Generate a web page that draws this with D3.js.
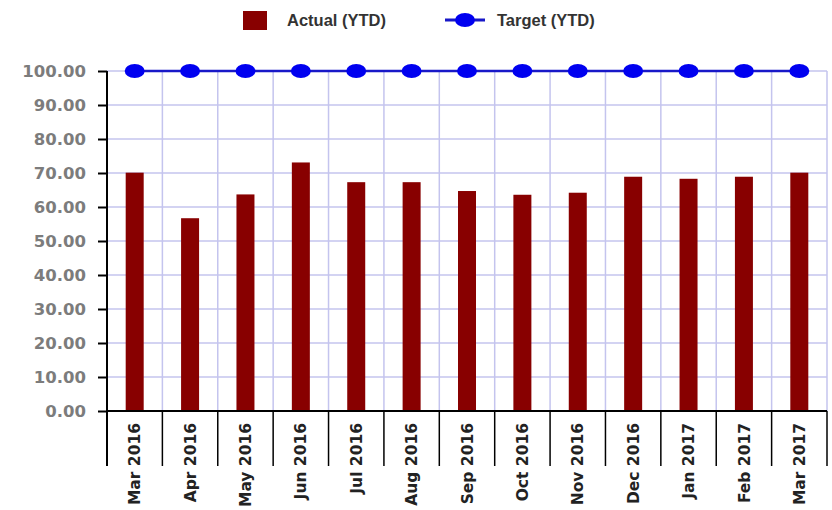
<!DOCTYPE html>
<html><head><meta charset="utf-8">
<script src="https://cdn.jsdelivr.net/npm/d3@7"></script>
<style>
html,body{margin:0;padding:0;background:#fff;}
svg{display:block;}
</style></head>
<body>
<svg id="chart" width="832" height="510"></svg>
<script>
const categories = ["Mar 2016","Apr 2016","May 2016","Jun 2016","Jul 2016","Aug 2016","Sep 2016","Oct 2016","Nov 2016","Dec 2016","Jan 2017","Feb 2017","Mar 2017"];
const actualYTD = [70.1, 56.7, 63.7, 73.1, 67.3, 67.3, 64.7, 63.6, 64.2, 68.9, 68.3, 68.9, 70.1];
const targetYTD = [100,100,100,100,100,100,100,100,100,100,100,100,100];
const yTicks = [0,10,20,30,40,50,60,70,80,90,100];
const seriesNames = ["Actual (YTD)", "Target (YTD)"];

const svg = d3.select("#chart");
const L = 107, R = 827, T = 71, B = 411, sepBottom = 466;
const x = d3.scaleBand().domain(categories).range([L, R]).padding(0);
const y = d3.scaleLinear().domain([0, 100]).range([B, T]);
const barColor = "#880000", gridColor = "#c4c4ee", blue = "#0000f0";

// gridlines
svg.append("g").selectAll("line").data(yTicks.filter(d => d > 0)).join("line")
  .attr("x1", L).attr("x2", R).attr("y1", d => y(d)).attr("y2", d => y(d))
  .attr("stroke", gridColor).attr("stroke-width", 1.5);
svg.append("g").selectAll("line").data(categories.slice(1)).join("line")
  .attr("x1", d => x(d)).attr("x2", d => x(d)).attr("y1", T).attr("y2", B)
  .attr("stroke", gridColor).attr("stroke-width", 1.5);
svg.append("line").attr("x1", R).attr("x2", R).attr("y1", T).attr("y2", B)
  .attr("stroke", gridColor).attr("stroke-width", 1.5);

// bars
const bw = 18;
svg.append("g").selectAll("rect").data(categories).join("rect")
  .attr("x", d => x(d) + x.bandwidth()/2 - bw/2)
  .attr("width", bw)
  .attr("y", (d,i) => y(actualYTD[i]))
  .attr("height", (d,i) => y(0) - y(actualYTD[i]))
  .attr("fill", barColor);

// y axis
const yAxis = d3.axisLeft(y).tickValues(yTicks).tickFormat(d3.format(".2f")).tickSize(9).tickSizeOuter(0).tickPadding(12);
const gy = svg.append("g").attr("transform", `translate(${L},0)`).call(yAxis);
gy.select(".domain").remove();
gy.selectAll(".tick line").attr("stroke", "#000").attr("stroke-width", 2);
gy.selectAll(".tick text").attr("fill", "#7c7c7c")
  .style("font-family", "'DejaVu Sans', sans-serif").style("font-weight", "bold").style("font-size", "16.5px");
svg.append("line").attr("x1", L).attr("x2", L).attr("y1", T).attr("y2", sepBottom)
  .attr("stroke", "#000").attr("stroke-width", 2);

// x axis line and separators
svg.append("line").attr("x1", L).attr("x2", R).attr("y1", B).attr("y2", B)
  .attr("stroke", "#000").attr("stroke-width", 2);
svg.append("g").selectAll("line").data(categories.slice(1)).join("line")
  .attr("x1", d => x(d)).attr("x2", d => x(d)).attr("y1", B).attr("y2", sepBottom)
  .attr("stroke", "#000").attr("stroke-width", 1.5);
svg.append("line").attr("x1", R).attr("x2", R).attr("y1", B).attr("y2", sepBottom)
  .attr("stroke", "#000").attr("stroke-width", 1.5);

// x labels
svg.append("g").selectAll("text").data(categories).join("text")
  .attr("transform", d => `translate(${x(d) + x.bandwidth()/2},${B + 12}) rotate(-90)`)
  .attr("text-anchor", "end").attr("dy", "0.36em")
  .attr("fill", "#222")
  .style("font-family", "'DejaVu Sans', sans-serif").style("font-weight", "bold").style("font-size", "15.5px")
  .text(d => d);

// target line
const line = d3.line().x((d,i) => x(categories[i]) + x.bandwidth()/2).y(d => y(d));
svg.append("path").datum(targetYTD).attr("d", line).attr("fill", "none")
  .attr("stroke", "#1818c8").attr("stroke-width", 2.5);
svg.append("g").selectAll("ellipse").data(targetYTD).join("ellipse")
  .attr("cx", (d,i) => x(categories[i]) + x.bandwidth()/2).attr("cy", d => y(d))
  .attr("rx", 10).attr("ry", 7).attr("fill", blue);

// legend
const lg = svg.append("g");
lg.append("rect").attr("x", 243).attr("y", 11).attr("width", 24).attr("height", 19).attr("fill", barColor);
lg.append("text").attr("x", 287).attr("y", 26).text(seriesNames[0]);
lg.append("line").attr("x1", 445).attr("x2", 485).attr("y1", 20).attr("y2", 20)
  .attr("stroke", "#1818c8").attr("stroke-width", 3);
lg.append("ellipse").attr("cx", 465).attr("cy", 20).attr("rx", 10).attr("ry", 7).attr("fill", blue);
lg.append("text").attr("x", 497).attr("y", 26).text(seriesNames[1]);
lg.selectAll("text").attr("fill", "#333")
  .style("font-family", "'Liberation Sans', Arial, sans-serif").style("font-weight", "bold").style("font-size", "16.5px");
</script>
</body></html>
